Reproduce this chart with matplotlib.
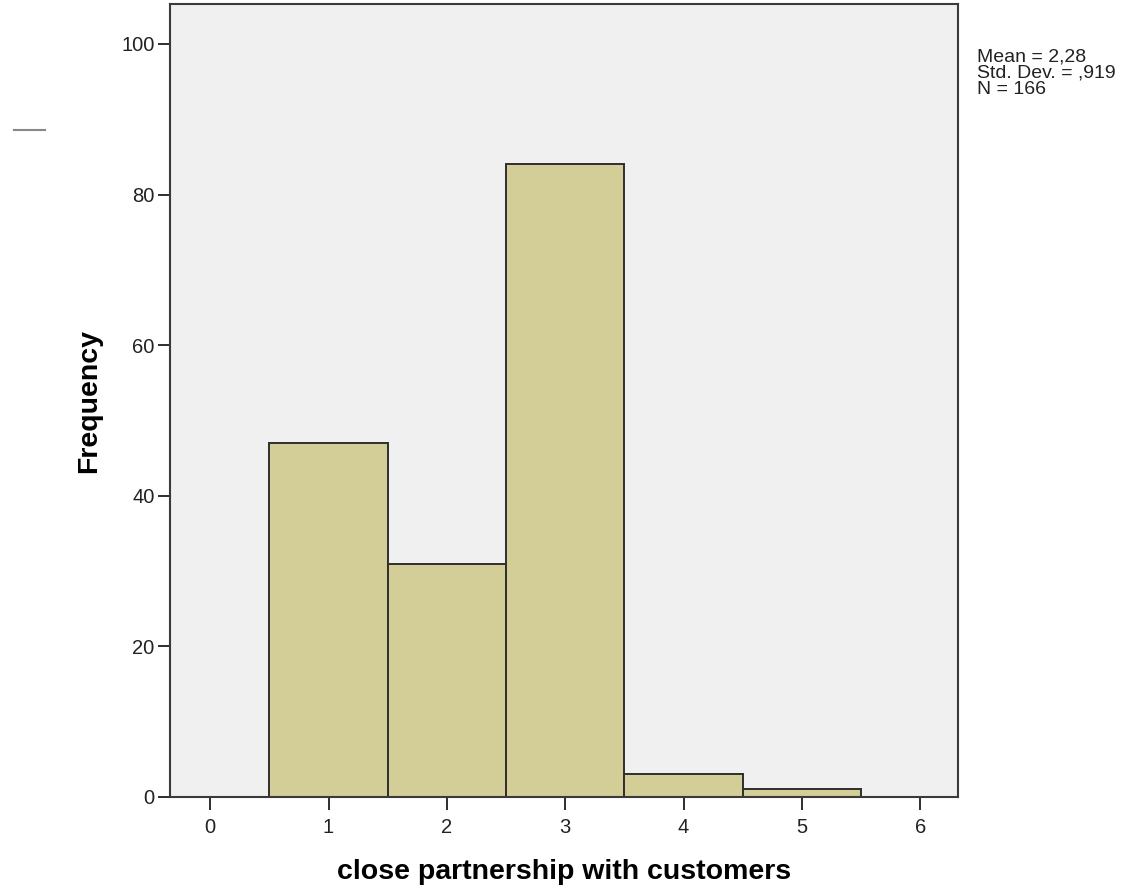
import matplotlib
matplotlib.use("Agg")
from matplotlib import pyplot as plt
from matplotlib.lines import Line2D
import numpy as np

# histogram data
bin_centers = [1, 2, 3, 4, 5]
frequencies = [47, 31, 84, 3, 1]
x_ticks = [0, 1, 2, 3, 4, 5, 6]
y_ticks = [0, 20, 40, 60, 80, 100]
stats_lines = ["Mean = 2,28", "Std. Dev. = ,919", "N = 166"]

plt.rcParams['font.family'] = ['Liberation Sans', 'DejaVu Sans']

fig = plt.figure(figsize=(11.48, 8.91), dpi=100)
ax = fig.add_axes([170 / 1148, 1 - 797 / 891, 788 / 1148, 793 / 891])
ax.set_facecolor('#f0f0f0')

ax.bar(bin_centers, frequencies, width=1.0, color='#d3ce97',
       edgecolor='#2e2e2e', linewidth=1.4, zorder=2)

ax.set_xlim(-0.34, 6.32)
ax.set_ylim(0, 105.3)
ax.set_xticks(x_ticks)
ax.set_yticks(y_ticks)
ax.tick_params(axis='both', direction='out', length=9, width=1.4,
               color='#2e2e2e', labelsize=14.5, labelcolor='#222222')
ax.tick_params(axis='x', pad=6)
ax.tick_params(axis='y', pad=2)

for s in ax.spines.values():
    s.set_color('#3a3a3a')
    s.set_linewidth(1.5)

ax.set_xlabel('close partnership with customers', fontsize=20.5, fontweight='bold',
              labelpad=16)
ax.set_ylabel('Frequency', fontsize=20.5, fontweight='bold', labelpad=14)

fig.text(977 / 1148, 1 - 48 / 891, "\n".join(stats_lines), fontsize=14,
         va='top', ha='left', linespacing=0.95, color='#222222')

# small stray dash at the left edge of the original picture
fig.add_artist(Line2D([14 / 1148, 45 / 1148], [1 - 129.5 / 891, 1 - 129.5 / 891],
                      color='#888888', linewidth=1.5))

fig.savefig('out.png', dpi=100, facecolor='white')
